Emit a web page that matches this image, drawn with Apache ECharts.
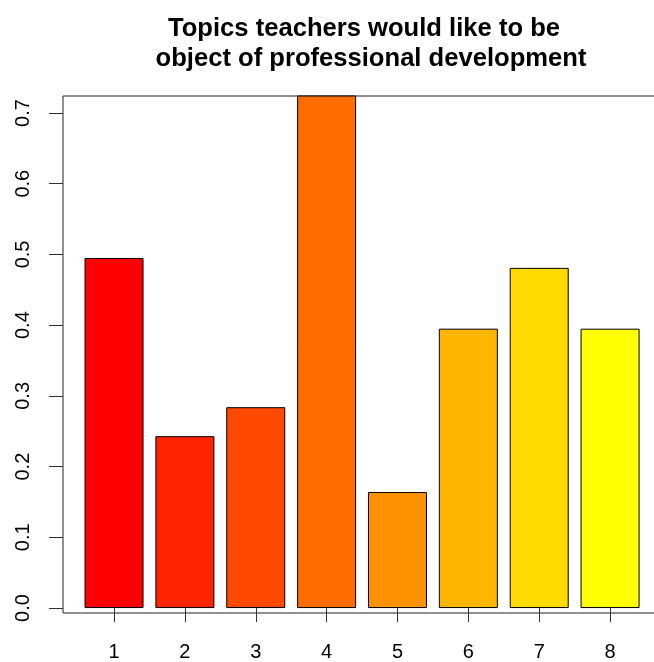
<!DOCTYPE html>
<html>
<head>
<meta charset="utf-8">
<script src="https://cdn.jsdelivr.net/npm/echarts@6/dist/echarts.min.js"></script>
<style>
  html, body { margin: 0; padding: 0; background: #fff; }
  #chart { width: 654px; height: 662px; }
</style>
</head>
<body>
<div id="chart"></div>
<script>
// topics 1..8, share of teachers
var categories = ['1', '2', '3', '4', '5', '6', '7', '8'];
var values = [0.495, 0.243, 0.284, 0.74, 0.164, 0.395, 0.481, 0.395];
// heat.colors(8)
var barColors = ['#FF0000', '#FF2400', '#FF4900', '#FF6D00', '#FF9200', '#FFB600', '#FFDB00', '#FFFF00'];
var yTicks = [0, 0.1, 0.2, 0.3, 0.4, 0.5, 0.6, 0.7];
var yMin = -0.007, yMax = 0.724;

var chart = echarts.init(document.getElementById('chart'));

var labelFont = { fontFamily: 'Liberation Sans, Arial, sans-serif', fontSize: 20, color: '#000' };
var titleFont = { fontFamily: 'Liberation Sans, Arial, sans-serif', fontWeight: 'bold', fontSize: 25.6, color: '#000' };

chart.setOption({
  animation: false,
  title: [
    { text: 'Topics teachers would like to be', left: 359, top: 11, textAlign: 'center', textStyle: titleFont },
    { text: 'object of professional development', left: 366, top: 41, textAlign: 'center', textStyle: titleFont }
  ],
  grid: [
    // plot box
    { left: 63, top: 96, width: 599, height: 517, show: true, borderColor: '#222', borderWidth: 1,
      backgroundColor: 'transparent', outerBoundsMode: 'none', containLabel: false },
    // bar area
    { left: 78.6, top: 96, width: 566.9, height: 517, outerBoundsMode: 'none', containLabel: false }
  ],
  xAxis: [
    { type: 'value', gridIndex: 0, show: false, min: 0, max: 1 },
    {
      type: 'category', gridIndex: 1, data: categories,
      axisLine: { show: false },
      axisTick: { show: true, alignWithLabel: true, length: 14, lineStyle: { color: '#333', width: 1 } },
      axisLabel: Object.assign({ margin: 29 }, labelFont)
    }
  ],
  yAxis: [
    {
      type: 'value', gridIndex: 0, min: yMin, max: yMax,
      axisLine: { show: false },
      splitLine: { show: false },
      axisTick: { show: true, length: 14, customValues: yTicks, lineStyle: { color: '#333', width: 1 } },
      axisLabel: Object.assign({
        rotate: 90, margin: 30, customValues: yTicks,
        formatter: function (v) { return v.toFixed(1); }
      }, labelFont)
    },
    { type: 'value', gridIndex: 1, min: yMin, max: yMax, show: false }
  ],
  series: [{
    type: 'bar',
    xAxisIndex: 1, yAxisIndex: 1,
    barWidth: 59,
    clip: true,
    data: values.map(function (v, i) {
      return { value: v, itemStyle: { color: barColors[i] } };
    }),
    itemStyle: { borderColor: '#000', borderWidth: 1 }
  }]
});
</script>
</body>
</html>
